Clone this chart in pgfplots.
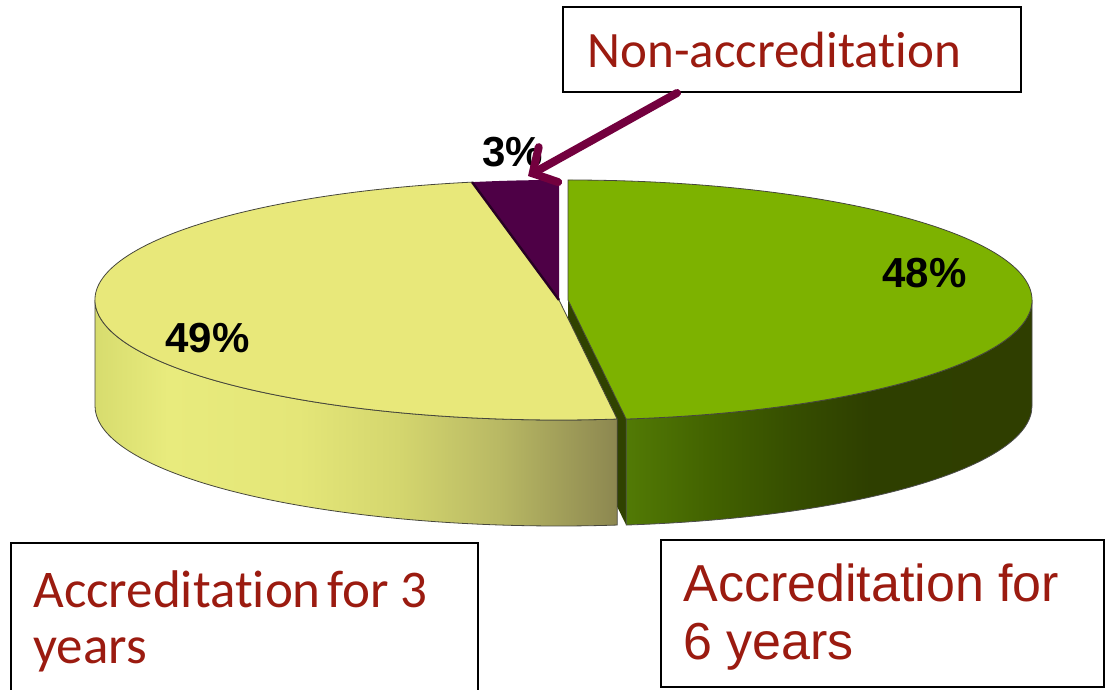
\documentclass[border=0pt]{standalone}
\usepackage{pgfplots}
\usepackage{pgfplotstable}
\pgfplotsset{compat=1.18}
\usepackage{fontspec}
\setmainfont{Carlito}[Ligatures=NoCommon]
\newfontfamily\arialf{Liberation Sans}
\usetikzlibrary{arrows.meta}

\definecolor{txtred}{RGB}{155,27,16}
\definecolor{arrowc}{RGB}{115,0,62}
\definecolor{gtop}{RGB}{125,178,0}
\definecolor{gface}{RGB}{48,66,0}
\definecolor{ytop}{RGB}{232,232,122}
\definecolor{ptop}{RGB}{78,0,70}
\definecolor{pedge}{RGB}{40,0,36}
\definecolor{edgec}{RGB}{70,70,60}
\definecolor{ys0}{RGB}{215,220,110}
\definecolor{ys1}{RGB}{232,235,125}
\definecolor{ys2}{RGB}{228,230,120}
\definecolor{ys3}{RGB}{212,214,110}
\definecolor{ys4}{RGB}{185,185,100}
\definecolor{ys5}{RGB}{140,135,80}
\definecolor{gs0}{RGB}{82,122,5}
\definecolor{gs1}{RGB}{66,98,0}
\definecolor{gs2}{RGB}{54,78,0}
\definecolor{gs3}{RGB}{46,63,0}
\definecolor{gs4}{RGB}{47,62,0}
\pgfdeclarehorizontalshading{yside}{100bp}{color(0bp)=(ys0); color(25bp)=(ys0); color(32bp)=(ys1); color(44.5bp)=(ys2); color(54bp)=(ys3); color(63.6bp)=(ys4); color(75bp)=(ys5); color(100bp)=(ys5)}
\pgfdeclarehorizontalshading{gside}{100bp}{color(0bp)=(gs0); color(25bp)=(gs0); color(35.5bp)=(gs1); color(45.5bp)=(gs2); color(55bp)=(gs3); color(75bp)=(gs4); color(100bp)=(gs4)}

% share of each category (percent)
\pgfplotstableread{
label value
Non-accreditation 3
Accreditation-3-years 49
Accreditation-6-years 48
}\piedata

\pgfplotstablegetelem{0}{value}\of\piedata \let\vA\pgfplotsretval
\pgfplotstablegetelem{1}{value}\of\piedata \let\vB\pgfplotsretval
\pgfplotstablegetelem{2}{value}\of\piedata \let\vC\pgfplotsretval
\pgfmathsetmacro\aA{90}
\pgfmathsetmacro\aB{\aA+3.6*\vA}
\pgfmathsetmacro\aC{\aB+3.6*\vB}
\pgfmathsetmacro\aD{\aC+3.6*\vC}
% geometry in axis units (1 unit = 0.5pt)
\def\cx{559}\def\cy{390}\def\rx{464}\def\ry{120}\def\dx{9}\def\hh{106}
\pgfmathsetmacro\pAx{\cx+\rx*cos(\aA)}\pgfmathsetmacro\pAy{\cy+\ry*sin(\aA)}
\pgfmathsetmacro\pBx{\cx+\rx*cos(\aB)}\pgfmathsetmacro\pBy{\cy+\ry*sin(\aB)}
\pgfmathsetmacro\pCx{\cx+\rx*cos(\aC)}\pgfmathsetmacro\pCy{\cy+\ry*sin(\aC)}
\pgfmathsetmacro\gcx{\cx+\dx}
\pgfmathsetmacro\gCx{\pCx+\dx}
\pgfmathsetmacro\lx{\cx-\rx}
\pgfmathsetmacro\cyh{\cy-\hh}
\pgfmathsetmacro\pCyh{\pCy-\hh}
\def\RX{232pt}\def\RY{60pt}\def\H{53pt}

\begin{document}
\begin{tikzpicture}
\begin{axis}[x=0.5pt, y=0.5pt, xmin=0, xmax=1109, ymin=0, ymax=690,
  hide axis, clip=false, scale only axis]
% green radial face
\fill[gface] (axis cs:\gcx,\cy) -- (axis cs:\gCx,\pCy) -- (axis cs:\gCx,\pCyh) -- (axis cs:\gcx,\cyh) -- cycle;
% yellow outer side
\shade[shading=yside, draw=edgec, line width=0.4pt]
  (axis cs:\lx,\cy) arc[start angle=180, end angle=\aC, x radius=\RX, y radius=\RY]
  -- ++(0pt,-\H) arc[start angle=\aC, end angle=180, x radius=\RX, y radius=\RY] -- cycle;
% yellow top
\fill[ytop, draw=edgec, line width=0.4pt] (axis cs:\cx,\cy) -- (axis cs:\pBx,\pBy)
  arc[start angle=\aB, end angle=\aC, x radius=\RX, y radius=\RY] -- cycle;
% purple top
\fill[ptop] (axis cs:\cx,\cy) -- (axis cs:\pAx,\pAy)
  arc[start angle=\aA, end angle=\aB, x radius=\RX, y radius=\RY] -- cycle;
\draw[pedge, line width=1.2pt] (axis cs:\cx,\cy) -- (axis cs:\pBx,\pBy);
% green outer side
\shade[shading=gside, draw=black!70, line width=0.4pt]
  (axis cs:\gCx,\pCy) arc[start angle=\aC, end angle=360, x radius=\RX, y radius=\RY]
  -- ++(0pt,-\H) arc[start angle=360, end angle=\aC, x radius=\RX, y radius=\RY] -- cycle;
% green top
\fill[gtop, draw=edgec, line width=0.4pt] (axis cs:\gcx,\cy) -- (axis cs:\gCx,\pCy)
  arc[start angle=\aC, end angle=\aD, x radius=\RX, y radius=\RY] -- cycle;
% percentage labels
\node[anchor=base west, inner sep=0pt, font=\arialf\bfseries\fontsize{21}{25}\selectfont] at (axis cs:882,402) {48\%};
\node[anchor=base west, inner sep=0pt, font=\arialf\bfseries\fontsize{21}{25}\selectfont] at (axis cs:165,337) {49\%};
\node[anchor=base west, inner sep=0pt, font=\arialf\bfseries\fontsize{21}{25}\selectfont] at (axis cs:482,523) {3\%};
% boxes
\fill[white, draw=black, line width=1pt] (axis cs:563,683) rectangle (axis cs:1021,598);
\node[anchor=base west, inner sep=0pt, text=txtred, font=\fontsize{25.5}{30}\selectfont] at (axis cs:587,622) {Non-accreditation};
\draw[black, line width=1pt] (axis cs:11,147) rectangle (axis cs:478,-20);
\node[anchor=base west, inner sep=0pt, text=txtred, font=\fontsize{26.5}{30}\selectfont] at (axis cs:33,82) {Accreditation\hspace{0.12em}for 3};
\node[anchor=base west, inner sep=0pt, text=txtred, font=\fontsize{26.5}{30}\selectfont] at (axis cs:33,26) {years};
\draw[black, line width=1pt] (axis cs:661,150) rectangle (axis cs:1104,3);
\node[anchor=base west, inner sep=0pt, text=txtred, font=\arialf\fontsize{26}{30}\selectfont] at (axis cs:683,88) {Accreditation for};
\node[anchor=base west, inner sep=0pt, text=txtred, font=\arialf\fontsize{26}{30}\selectfont] at (axis cs:683,30) {6 years};
% arrow
\draw[arrowc, line width=4pt, line cap=round, -{Straight Barb[length=9pt, width=20pt, line cap=round]}] (axis cs:677,597) -- (axis cs:528,514);
\end{axis}
\pgfresetboundingbox
\useasboundingbox (0,0) rectangle (554.5pt,345pt);
\end{tikzpicture}
\end{document}
